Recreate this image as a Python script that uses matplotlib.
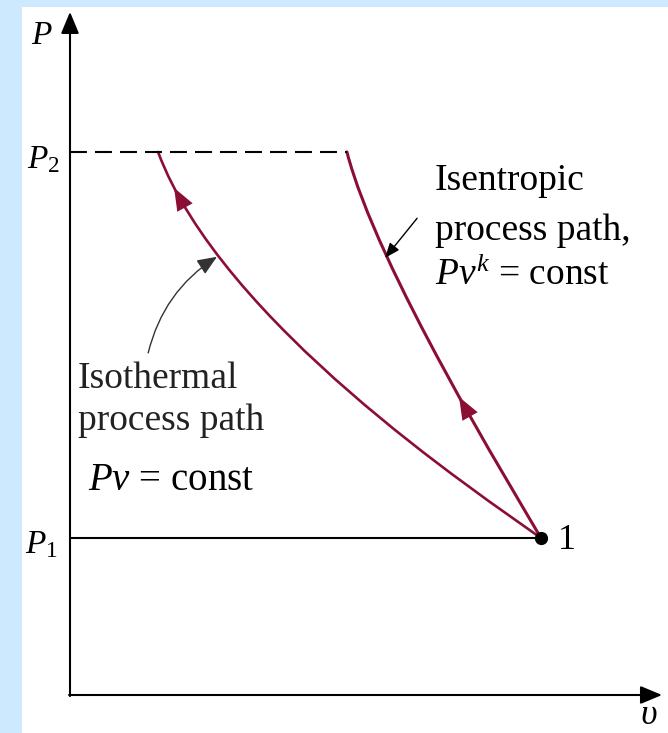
import matplotlib
matplotlib.use("Agg")
import matplotlib.pyplot as plt
from matplotlib.patches import Rectangle, PathPatch
from matplotlib.path import Path

plt.rcParams["font.family"] = ["Liberation Serif", "DejaVu Serif"]
plt.rcParams["mathtext.fontset"] = "custom"
plt.rcParams["mathtext.rm"] = "Liberation Serif"
plt.rcParams["mathtext.it"] = "Liberation Serif:italic"
plt.rcParams["lines.scale_dashes"] = False

# State points (specific volume v, pressure P) in arbitrary units
v1, P1 = 10.0, 2.89
P2 = 10.0

# Isothermal compression path (Pv = const), cubic Bezier from state 1 to P2
iso_t_v = [10.0, 8.66, 3.21, 1.87]
iso_t_P = [2.89, 3.72, 6.87, 10.0]

# Isentropic compression path (Pv^k = const), cubic Bezier from state 1 to P2
iso_s_v = [10.0, 9.37, 6.51, 5.88]
iso_s_P = [2.89, 3.83, 7.87, 10.0]

v_max, P_max = 12.57, 12.58
path_color = "#8b0f35"

fig = plt.figure(figsize=(6.68, 7.33), dpi=100, facecolor="#cce9fe")
fig.patches.append(Rectangle((22 / 668, 0), 1, 1 - 7 / 733, transform=fig.transFigure,
                             facecolor="white", edgecolor="none", zorder=-1))
ax = fig.add_axes([70 / 668, 38 / 733, 12.6 * 47.1 / 668, 12.6 * 54.3 / 733])
ax.set_zorder(2)
ax.set_xlim(0, 12.6)
ax.set_ylim(0, 12.6)
ax.axis("off")

# coordinate axes with arrow heads
arrow_kw = dict(arrowstyle="-|>,head_length=0.6,head_width=0.25", color="black",
                lw=1.5, mutation_scale=22, shrinkA=0, shrinkB=0)
ax.annotate("", xy=(0, P_max), xytext=(0, -0.02), arrowprops=arrow_kw, annotation_clip=False)
ax.annotate("", xy=(v_max, 0), xytext=(-0.02, 0), arrowprops=arrow_kw, annotation_clip=False)

# pressure levels
ax.plot([0, v1], [P1, P1], color="black", lw=1.5, solid_capstyle="butt")
ax.plot([0, iso_s_v[-1]], [P2, P2], color="black", lw=1.5, dashes=(12.2, 5.8))

# process paths
codes = [Path.MOVETO, Path.CURVE4, Path.CURVE4, Path.CURVE4]
for vs, ps, lw in [(iso_t_v, iso_t_P, 1.9), (iso_s_v, iso_s_P, 2.2)]:
    path = Path(list(zip(vs, ps)), codes)
    ax.add_patch(PathPatch(path, facecolor="none", edgecolor=path_color, lw=lw,
                           capstyle="round"))

head_kw = dict(arrowstyle="-|>,head_length=0.9,head_width=0.35", color=path_color,
               lw=0, mutation_scale=18, shrinkA=0, shrinkB=0)
ax.annotate("", xy=(2.21, 9.34), xytext=(2.42, 9.01), arrowprops=head_kw)
ax.annotate("", xy=(8.26, 5.49), xytext=(8.46, 5.18), arrowprops=head_kw)

ax.plot([v1], [P1], "o", color="black", ms=8.5, zorder=5)

# labels
ax.text(-0.59, 12.15, "$P$", fontsize=24, ha="center", va="center")
ax.text(-0.21, 9.85, "$P_2$", fontsize=24, ha="right", va="center")
ax.text(-0.25, 2.76, "$P_1$", fontsize=24, ha="right", va="center")
ax.text(10.36, 2.85, "1", fontsize=26, ha="left", va="center")
ax.text(12.28, -0.37, r"$\upsilon$", fontsize=26, ha="center", va="center")

ax.text(7.75, (695 - 190) / 54.3, "Isentropic", fontsize=27, va="baseline")
ax.text(7.75, (695 - 240) / 54.3, "process path,", fontsize=27, va="baseline")
ax.text(7.75, (695 - 285) / 54.3, "$Pv^k$ = const", fontsize=27, va="baseline")

ax.annotate("", xy=(6.69, 8.05), xytext=(7.37, 8.78),
            arrowprops=dict(arrowstyle="-|>,head_length=0.5,head_width=0.2", color="black",
                            lw=1.0, mutation_scale=18, shrinkA=0, shrinkB=0))

ax.text(0.17, (695 - 388) / 54.3, "Isothermal", fontsize=27, va="baseline", color="#222222")
ax.text(0.17, (695 - 430) / 54.3, "process path", fontsize=27, va="baseline", color="#222222")
ax.text(0.38, (695 - 490) / 54.3, "$Pv$ = const", fontsize=28, va="baseline")

ax.annotate("", xy=(3.12, 8.07), xytext=(1.66, 6.30),
            arrowprops=dict(arrowstyle="-|>,head_length=0.6,head_width=0.25", color="#333333",
                            lw=1.0, mutation_scale=20, shrinkA=0, shrinkB=0,
                            connectionstyle="arc3,rad=-0.2"))

fig.savefig("out.png", dpi=100, facecolor=fig.get_facecolor())
